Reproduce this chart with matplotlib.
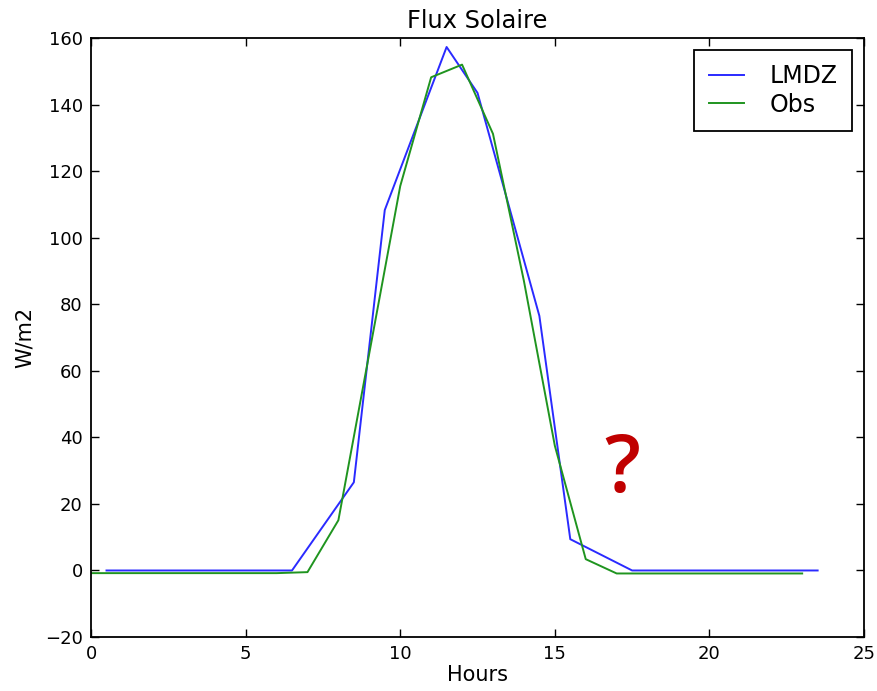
import matplotlib
matplotlib.use("Agg")
import matplotlib.pyplot as plt

# LMDZ model (vertices of the plotted polyline)
lmdz_hours = [0.5, 6.5, 8.5, 9.5, 11.5, 12.5, 14.5, 15.5, 17.5, 23.5]
lmdz_flux = [0.0, 0.0, 26.5, 108.3, 157.3, 143.5, 76.5, 9.4, 0.0, 0.0]

# Observations
obs_hours = [0, 6, 7, 8, 10, 11, 12, 13, 14, 15, 16, 17, 23]
obs_flux = [-0.8, -0.8, -0.5, 15.1, 115.5, 148.2, 152.0, 131.2, 87.0, 37.5, 3.4, -0.9, -0.9]

title = "Flux Solaire"
xlabel = "Hours"
ylabel = "W/m2"
xticks = [0, 5, 10, 15, 20, 25]
yticks = [-20, 0, 20, 40, 60, 80, 100, 120, 140, 160]

plt.rcParams['font.family'] = ['DejaVu Sans']
fig = plt.figure(figsize=(8.77, 6.91), dpi=100)
ax = fig.add_axes([0.1038, 0.0781, 0.8814, 0.8669])

ax.plot(lmdz_hours, lmdz_flux, color='#2a2aff', lw=1.4, label='LMDZ')
ax.plot(obs_hours, obs_flux, color='#1f941f', lw=1.4, label='Obs')

ax.set_xlim(0, 25)
ax.set_ylim(-20, 160)
ax.set_xticks(xticks)
ax.set_yticks(yticks)
ax.tick_params(direction='in', top=True, right=True, length=6, width=1,
               labelsize=13, pad=6, colors='black')
for s in ax.spines.values():
    s.set_linewidth(1.3)

ax.set_title(title, fontsize=17.4, pad=7)
ax.set_xlabel(xlabel, fontsize=15, labelpad=1)
ax.set_ylabel(ylabel, fontsize=15, labelpad=7)

leg = ax.legend(loc='upper right', fontsize=17, fancybox=False, framealpha=1,
                edgecolor='black', handlelength=1.5, borderaxespad=0.5,
                borderpad=0.6, labelspacing=0.2, handletextpad=1.1)
leg.get_frame().set_linewidth(1.3)

ax.text(17.17, 29.8, "?", color='#c00000', fontsize=57, ha='center', va='center',
        family=['Open Sans', 'DejaVu Sans'], weight='semibold')

fig.savefig("out.png", dpi=100)
